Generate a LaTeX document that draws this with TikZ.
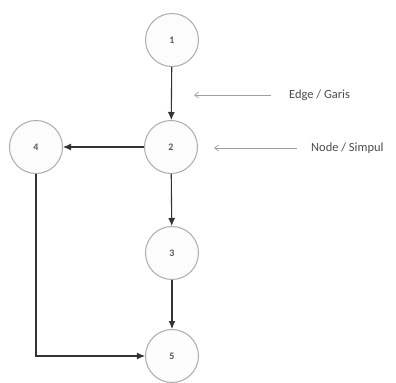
\documentclass[tikz,border=0pt]{standalone}
\usepackage{fontspec}
\setmainfont{Carlito}
\usetikzlibrary{arrows.meta}
\begin{document}
\begin{tikzpicture}[x=1bp,y=-1bp,
  vertex/.style={circle,draw=gray!65,line width=1bp,fill=gray!2,
    minimum size=53bp,inner sep=0pt,font=\fontsize{10}{11}\selectfont\bfseries,text=black!65},
  flow/.style={draw=black!80,line width=1.1bp,-{Latex[length=8bp,width=7bp]}},
  pointer/.style={draw=gray!75,line width=0.7bp,-{Straight Barb[length=4bp,width=6bp]}},
  caption/.style={font=\fontsize{12.5}{14}\selectfont,text=black!70,anchor=west,inner sep=0pt}]
  \useasboundingbox (0,0) rectangle (396,383);
  \fill[white] (0,0) rectangle (396,383);

  % graph nodes
  \node[vertex] (n1) at (172,40)  {1};
  \node[vertex] (n2) at (171,147) {2};
  \node[vertex] (n4) at (36,147)  {4};
  \node[vertex] (n3) at (172,253) {3};
  \node[vertex] (n5) at (172,356) {5};

  % edges
  \draw[flow] (n1) -- (n2);
  \draw[flow] (n2) -- (n4);
  \draw[flow] (n2) -- (n3);
  \draw[flow] (n3) -- (n5);
  \draw[flow] (n4.south) |- (n5.west);

  % labels with pointers
  \node[caption] (edgelbl) at (289,95) {Edge / Garis};
  \node[caption] (nodelbl) at (311,148) {Node / Simpul};
  \coordinate (edgetail) at (271,95);
  \coordinate (edgetip) at (194,95);
  \coordinate (nodetail) at (297,148);
  \coordinate (nodetip) at (214,148);
  \draw[pointer] (edgetail) -- (edgetip);
  \draw[pointer] (nodetail) -- (nodetip);
\end{tikzpicture}
\end{document}
